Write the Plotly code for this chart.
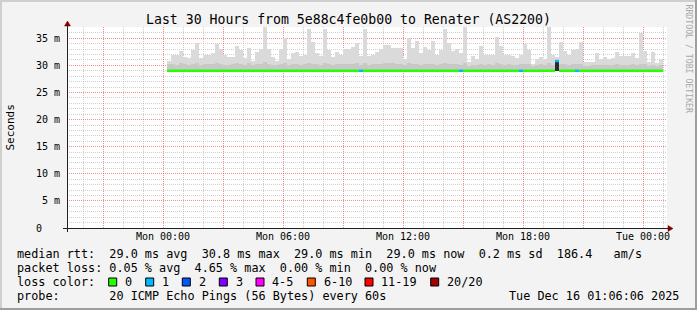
import plotly.graph_objects as go
import pandas as pd

# ---------------- data ----------------
TITLE = "Last 30 Hours from 5e88c4fe0b00 to Renater (AS2200)"
X_START = "2025-12-14 19:12"
X_END = "2025-12-16 01:12"
BIN_START = "2025-12-15 00:12"
BIN_MINUTES = 12
SMOKE_FLOOR = 28.9

# upper edge of the smoke (ms), one per 12-minute bin
smoke_max = [30.9, 31.9, 31.9, 32.7, 31.5, 31.3, 32.9, 34.1, 31.3, 31.9,
             31.9, 32.3, 33.9, 33.0, 32.0, 31.5, 31.5, 33.5, 32.8, 31.3,
             33.2, 30.9, 32.5, 33.0, 37.0, 33.0, 31.5, 30.8, 33.0, 35.0,
             31.2, 32.3, 32.4, 31.8, 32.0, 36.8, 34.4, 32.3, 31.8, 36.8,
             32.8, 31.5, 32.4, 32.0, 33.0, 33.0, 33.4, 34.1, 31.8, 36.8,
             31.7, 31.9, 32.5, 33.0, 33.8, 33.8, 33.2, 33.2, 33.2, 31.1,
             35.0, 33.2, 34.5, 32.2, 33.3, 32.9, 34.5, 31.9, 32.9, 36.8,
             34.1, 32.7, 33.0, 32.2, 37.0, 30.7, 31.8, 31.1, 33.6, 31.9,
             31.9, 31.9, 35.2, 33.5, 31.9, 31.9, 31.7, 31.3, 31.9, 33.9,
             32.9, 30.3, 31.1, 31.5, 31.1, 37.0, 31.9, 31.5, 34.4, 32.7,
             31.9, 32.9, 33.0, 34.3, 30.7, 30.7, 30.7, 32.3, 31.1, 31.5,
             31.1, 31.4, 32.4, 31.8, 31.8, 31.8, 32.2, 31.3, 36.0, 32.7,
             30.7, 32.4, 30.4, 31.2]

# denser inner smoke band (ms)
smoke_mid = [30.2, 30.3, 30.1, 30.4, 30.2, 30.0, 30.3, 30.5, 30.1, 30.2,
             30.2, 30.3, 30.5, 30.2, 30.1, 30.0, 30.2, 30.4, 30.3, 30.1,
             30.4, 30.0, 30.2, 30.3, 30.6, 30.3, 30.1, 30.0, 30.2, 30.5,
             30.1, 30.2, 30.3, 30.1, 30.2, 30.4, 30.3, 30.2, 30.1, 30.5,
             30.2, 30.1, 30.2, 30.2, 30.3, 30.3, 30.2, 30.4, 30.0, 30.5,
             30.1, 30.2, 30.3, 30.2, 30.4, 30.5, 30.4, 30.3, 30.3, 30.0,
             30.4, 30.2, 30.3, 30.1, 30.2, 30.3, 30.3, 30.1, 30.2, 30.5,
             30.3, 30.2, 30.2, 30.1, 30.5, 29.9, 30.1, 30.0, 30.3, 30.1,
             30.2, 30.1, 30.4, 30.2, 30.1, 30.2, 30.1, 30.0, 30.2, 30.3,
             30.2, 29.9, 30.0, 30.2, 30.0, 30.4, 30.1, 30.6, 30.3, 30.2,
             30.1, 30.2, 30.2, 30.3, 29.9, 29.9, 30.0, 30.1, 30.0, 30.1,
             30.0, 30.1, 30.2, 30.1, 30.1, 30.1, 30.2, 30.0, 30.3, 30.2,
             29.9, 30.1, 29.9, 30.0]

# dense (dark) smoke top, only where the pings crowd together
smoke_dense = {97: 30.6}

# median rtt (ms) per bin and lost pings per bin (out of 20)
median_rtt = [29.0] * 124
median_rtt[97] = 30.8
lost_pings = [0] * 124
for b in (48, 73, 88, 97, 102):
    lost_pings[b] = 1

loss_labels = ["0", "1", "2", "3", "4-5", "6-10", "11-19", "20/20"]
loss_colors = ["#26ff00", "#00b8ff", "#0059ff", "#7e00ff", "#ff00ff",
               "#ff5500", "#ff0000", "#a10000"]

legend_rows = [
    "median rtt:  29.0 ms avg  30.8 ms max  29.0 ms min  29.0 ms now  0.2 ms sd  186.4   am/s",
    "packet loss: 0.05 % avg  4.65 % max  0.00 % min  0.00 % now",
    "loss color:",
    "probe:       20 ICMP Echo Pings (56 Bytes) every 60s",
]
stamp = "Tue Dec 16 01:06:06 2025"

y_tickvals = [0, 5, 10, 15, 20, 25, 30, 35]
y_ticktext = ["0\u00a0\u00a0\u00a0", "5 m", "10 m", "15 m", "20 m", "25 m", "30 m", "35 m"]

# ---------------- layout geometry ----------------
W, H = 697, 310
PL, PR, PT, PB = 67, 667, 27, 228   # plot area pixels
YMAX = 37.08
MONO = "DejaVu Sans Mono"


def px(x):
    return (x - PL) / (PR - PL)


def py(y):
    return (PB - y) / (PB - PT)


def loss_index(n):
    if n <= 3:
        return n
    if n <= 5:
        return 4
    if n <= 10:
        return 5
    if n <= 19:
        return 6
    return 7


start = pd.Timestamp(BIN_START)
step = pd.Timedelta(minutes=BIN_MINUTES)
n = len(smoke_max)
b_start = [start + i * step for i in range(n)]
b_end = [start + (i + 1) * step for i in range(n)]
b_mid = [start + (i + 0.5) * step for i in range(n)]
width_ms = BIN_MINUTES * 60 * 1000

# minor grid positions (every hour / every 1 m, skipping the major ones)
t0 = pd.Timestamp("2025-12-14 19:00")
x_minor = [t0 + pd.Timedelta(hours=h) for h in range(32) if (19 + h) % 3 != 0]
y_minor = [v for v in range(0, 38) if v % 5 != 0]

fig = go.Figure()

fig.add_trace(go.Bar(x=b_mid, y=[m - SMOKE_FLOOR for m in smoke_max], base=SMOKE_FLOOR,
                     width=width_ms, marker=dict(color="#dadada", line=dict(width=0)),
                     showlegend=False, hoverinfo="skip"))
fig.add_trace(go.Bar(x=b_mid, y=[m - SMOKE_FLOOR for m in smoke_mid], base=SMOKE_FLOOR,
                     width=width_ms, marker=dict(color="#c8c8c8", line=dict(width=0)),
                     showlegend=False, hoverinfo="skip"))
fig.add_trace(go.Bar(x=[b_mid[i] for i in smoke_dense],
                     y=[v - SMOKE_FLOOR for v in smoke_dense.values()], base=SMOKE_FLOOR,
                     width=width_ms, marker=dict(color="#2b2b2b", line=dict(width=0)),
                     showlegend=False, hoverinfo="skip"))

# median line segments coloured by loss
for ci, col in enumerate(loss_colors):
    xs, ys = [], []
    for i in range(n):
        if loss_index(lost_pings[i]) == ci:
            xs += [b_start[i], b_end[i], None]
            ys += [median_rtt[i], median_rtt[i], None]
    if xs:
        fig.add_trace(go.Scatter(x=xs, y=ys, mode="lines",
                                 line=dict(color=col, width=2.5),
                                 showlegend=False, hoverinfo="skip"))

annotations = []
shapes = []

annotations.append(dict(text=TITLE, x=px(W / 2), y=py(19.5), xref="paper", yref="paper",
                        xanchor="center", yanchor="middle", showarrow=False,
                        font=dict(family=MONO, size=13.2, color="#000000")))
annotations.append(dict(text="Seconds", x=px(10), y=py(127.5), xref="paper", yref="paper",
                        xanchor="center", yanchor="middle", showarrow=False, textangle=-90,
                        font=dict(family=MONO, size=11, color="#000000")))
annotations.append(dict(text="RRDTOOL / TOBI OETIKER", x=px(688.5), y=py(59), xref="paper",
                        yref="paper", xanchor="center", yanchor="middle", showarrow=False,
                        textangle=90, font=dict(family=MONO, size=8.2, color="#a8a8a8")))

row_y = [254, 268.3, 282, 296]
for txt, yy in zip(legend_rows, row_y):
    annotations.append(dict(text=txt.replace(" ", "\u00a0"), x=px(15), y=py(yy),
                            xref="paper", yref="paper", xanchor="left", yanchor="middle",
                            showarrow=False, font=dict(family=MONO, size=11.8, color="#000000")))
annotations.append(dict(text=stamp.replace(" ", "\u00a0"), x=px(680.5), y=py(296),
                        xref="paper", yref="paper", xanchor="right", yanchor="middle",
                        showarrow=False, font=dict(family=MONO, size=11.8, color="#000000")))

sq_left = [108.7, 145.7, 182.3, 219.3, 256, 307.3, 365, 430.7]
for lab, col, sx in zip(loss_labels, loss_colors, sq_left):
    shapes.append(dict(type="rect", xref="paper", yref="paper",
                       x0=px(sx), x1=px(sx + 8), y0=py(278), y1=py(286),
                       fillcolor=col, line=dict(color="#000000", width=1)))
    annotations.append(dict(text=lab, x=px(sx + 14.3), y=py(282), xref="paper", yref="paper",
                            xanchor="left", yanchor="middle", showarrow=False,
                            font=dict(family=MONO, size=11.8, color="#000000")))

AX = "#202020"
AR = "#800000"
shapes.append(dict(type="line", xref="paper", yref="paper", x0=px(63), x1=px(670),
                   y0=py(228.5), y1=py(228.5), line=dict(color=AX, width=1)))
shapes.append(dict(type="line", xref="paper", yref="paper", x0=px(67.5), x1=px(67.5),
                   y0=py(232), y1=py(24), line=dict(color=AX, width=1)))
shapes.append(dict(type="path", xref="paper", yref="paper",
                   path=f"M {px(668)},{py(225.5)} L {px(673)},{py(228.5)} L {px(668)},{py(231.5)} Z",
                   fillcolor=AR, line=dict(color=AR, width=0.5)))
shapes.append(dict(type="path", xref="paper", yref="paper",
                   path=f"M {px(64.5)},{py(26)} L {px(67.5)},{py(21)} L {px(70.5)},{py(26)} Z",
                   fillcolor=AR, line=dict(color=AR, width=0.5)))

shapes.append(dict(type="line", xref="paper", yref="paper", x0=px(0), x1=px(W),
                   y0=py(1), y1=py(1), line=dict(color="#cfcfcf", width=2)))
shapes.append(dict(type="line", xref="paper", yref="paper", x0=px(1), x1=px(1),
                   y0=py(0), y1=py(H), line=dict(color="#cfcfcf", width=2)))
shapes.append(dict(type="line", xref="paper", yref="paper", x0=px(0), x1=px(W),
                   y0=py(H - 1), y1=py(H - 1), line=dict(color="#9e9e9e", width=2)))
shapes.append(dict(type="line", xref="paper", yref="paper", x0=px(W - 1), x1=px(W - 1),
                   y0=py(0), y1=py(H), line=dict(color="#9e9e9e", width=2)))

MINOR = "rgba(150,150,150,0.45)"
MAJOR = "rgba(240,30,30,0.50)"

fig.update_layout(
    width=W, height=H,
    margin=dict(l=PL, r=W - PR, t=PT, b=H - PB, pad=0, autoexpand=False),
    paper_bgcolor="#f3f3f3", plot_bgcolor="#ffffff",
    barmode="overlay", bargap=0, showlegend=False,
    annotations=annotations, shapes=shapes,
    xaxis=dict(type="date", range=[X_START, X_END], tickmode="linear",
               tick0="2025-12-15 00:00", dtick=3 * 3600 * 1000, ticklabelstep=2,
               tickformat="%a %H:%M", showgrid=True, gridcolor=MAJOR, griddash="1px,1px",
               gridwidth=1, zeroline=False, showline=False, ticks="",
               ticklabelstandoff=1,
               tickfont=dict(family=MONO, size=10, color="#000000"),
               minor=dict(tickmode="array", tickvals=x_minor,
                          showgrid=True, gridcolor=MINOR, griddash="1px,1px", gridwidth=1)),
    yaxis=dict(range=[0, YMAX], tickmode="array", tickvals=y_tickvals, ticktext=y_ticktext,
               showgrid=True, gridcolor=MAJOR, griddash="1px,1px", gridwidth=1,
               zeroline=False, showline=False, ticks="", ticklabelstandoff=6,
               tickfont=dict(family=MONO, size=10, color="#000000"),
               minor=dict(tickmode="array", tickvals=y_minor, showgrid=True,
                          gridcolor=MINOR, griddash="1px,1px", gridwidth=1)),
)

fig.write_html("out.html")
